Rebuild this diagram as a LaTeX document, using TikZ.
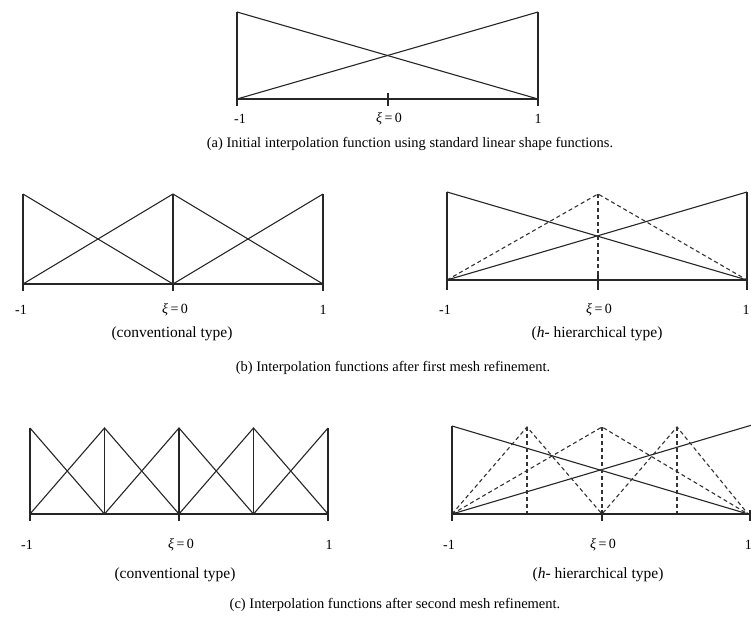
\documentclass[tikz,border=0pt]{standalone}
\usepackage{fontspec}
\setmainfont{Liberation Serif}
\begin{document}
\begin{tikzpicture}[x=1pt,y=-1pt,
  fn/.style={line width=1.1pt, draw=black!85},
  hier/.style={line width=1.1pt, draw=black!80, dash pattern=on 4pt off 3pt},
  axisline/.style={line width=1.9pt, draw=black!85},
  tickmark/.style={line width=1.9pt, draw=black!85},
  lbl/.style={font=\fontsize{14}{16}\selectfont, inner sep=0pt, anchor=center},
  typetext/.style={font=\fontsize{15.5}{17}\selectfont, inner sep=0pt, anchor=center},
  captext/.style={font=\fontsize{14.5}{16}\selectfont, inner sep=0pt, anchor=center}]
\useasboundingbox (0,0) rectangle (751,621);
\fill[white] (0,0) rectangle (751,621);

% ---------- (a)
\draw[fn] (237,12) -- (538,99);
\draw[fn] (237,99) -- (538,12);
\draw[fn] (237,12) -- (237,99);
\draw[fn] (538,12) -- (538,99);
\draw[axisline] (237,99) -- (538,99);
\draw[tickmark] (237,93) -- (237,106);
\draw[tickmark] (388,93) -- (388,106);
\draw[tickmark] (538,93) -- (538,106);
\node[lbl] (a1) at (240,119) {-1};
\node[lbl] (a2) at (389,119) {{\itshape ξ}\,=\,0};
\node[lbl] (a3) at (538,119) {1};
\node[captext] (acap) at (410,144) {(a) Initial interpolation function using standard linear shape functions.};

% ---------- (b) conventional
\foreach \x in {23,173,323} {\draw[fn] (\x,194) -- (\x,284);}
\draw[fn] (23,194) -- (173,284) -- (323,194);
\draw[fn] (23,284) -- (173,194) -- (323,284);
\draw[axisline] (23,284) -- (323,284);
\foreach \x in {23,173,323} {\draw[tickmark] (\x,280) -- (\x,291);}
\node[lbl] (b1) at (21,310) {-1};
\node[lbl] (b2) at (175,310) {{\itshape ξ}\,=\,0};
\node[lbl] (b3) at (323,310) {1};
\node[typetext] (bc) at (172,334) {(conventional type)};

% ---------- (b) hierarchical
\draw[fn] (447,192) -- (447,280);
\draw[fn] (747,192) -- (747,280);
\draw[fn] (447,192) -- (747,280);
\draw[fn] (447,280) -- (747,192);
\draw[hier] (447,280) -- (598,194) -- (747,280);
\draw[hier] (598,194) -- (598,280);
\draw[axisline] (447,280) -- (747,280);
\foreach \x in {447,598,747} {\draw[tickmark] (\x,275) -- (\x,290);}
\node[lbl] (b4) at (445,310) {-1};
\node[lbl] (b5) at (599,310) {{\itshape ξ}\,=\,0};
\node[lbl] (b6) at (746,310) {1};
\node[typetext] (bh) at (597,334) {({\itshape h}- hierarchical type)};
\node[captext] (bcap) at (393,368) {(b) Interpolation functions after first mesh refinement.};

% ---------- (c) conventional
\foreach \x in {30,104.5,179,253.5,328} {\draw[fn] (\x,428) -- (\x,514);}
\draw[fn] (30,428) -- (104.5,514) -- (179,428) -- (253.5,514) -- (328,428);
\draw[fn] (30,514) -- (104.5,428) -- (179,514) -- (253.5,428) -- (328,514);
\draw[axisline] (30,514) -- (328,514);
\foreach \x in {30,179,328} {\draw[tickmark] (\x,510) -- (\x,521);}
\node[lbl] (c1) at (27,545) {-1};
\node[lbl] (c2) at (181,545) {{\itshape ξ}\,=\,0};
\node[lbl] (c3) at (329,545) {1};
\node[typetext] (cc) at (175,575) {(conventional type)};

% ---------- (c) hierarchical
\draw[fn] (452,426) -- (452,514);
\draw[fn] (452,426) -- (748,514);
\draw[fn] (452,514) -- (752,425);
\draw[hier] (452,514) -- (527,427) -- (602,514) -- (677,427) -- (748,514);
\draw[hier] (452,514) -- (602,427) -- (748,514);
\foreach \x in {527,602,677} {\draw[hier] (\x,427) -- (\x,514);}
\draw[axisline] (452,514) -- (751,514);
\foreach \x in {452,602,750} {\draw[tickmark] (\x,510) -- (\x,521);}
\node[lbl] (c4) at (449,545) {-1};
\node[lbl] (c5) at (603,545) {{\itshape ξ}\,=\,0};
\node[lbl, anchor=east] (c6) at (752,545) {1};
\node[typetext] (ch) at (598,575) {({\itshape h}- hierarchical type)};
\node[captext] (ccap) at (395,605) {(c) Interpolation functions after second mesh refinement.};
\end{tikzpicture}
\end{document}
